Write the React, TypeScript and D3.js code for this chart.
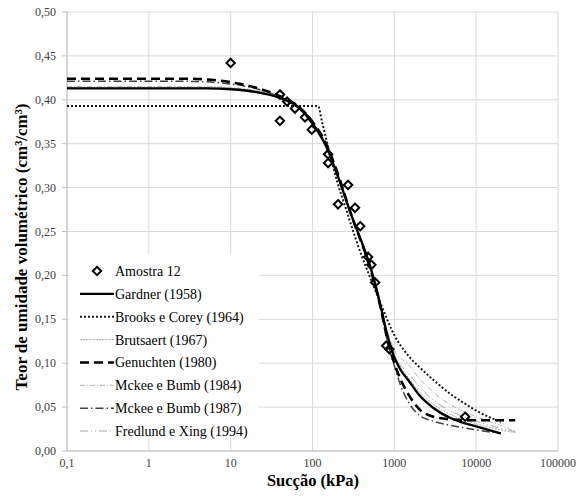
import React from 'react';
import * as d3 from 'd3';

// ---- Data ----
const xTickValues = [0.1, 1, 10, 100, 1000, 10000, 100000];
const xTickLabels = ['0,1', '1', '10', '100', '1000', '10000', '100000'];
const yTickValues = [0, 0.05, 0.1, 0.15, 0.2, 0.25, 0.3, 0.35, 0.4, 0.45, 0.5];
const yTickLabels = ['0,00', '0,05', '0,10', '0,15', '0,20', '0,25', '0,30', '0,35', '0,40', '0,45', '0,50'];

const sampleSuction = [10, 40, 40, 49, 61, 81, 98, 155, 155, 205, 272, 331, 383, 478, 524, 582, 795, 870, 7330];
const sampleTheta = [0.442, 0.406, 0.376, 0.398, 0.390, 0.380, 0.366, 0.338, 0.328, 0.281, 0.303, 0.277, 0.256, 0.221, 0.212, 0.192, 0.120, 0.116, 0.039];

const gardnerSuction = [0.1, 1, 5, 10, 20, 40, 70, 100, 150, 200, 300, 500, 600, 700, 800, 1000, 1200, 1500, 2000, 3000, 5000, 7000, 10000, 20000];
const gardnerTheta = [0.413, 0.413, 0.413, 0.412, 0.409, 0.402, 0.390, 0.373, 0.345, 0.315, 0.268, 0.212, 0.186, 0.160, 0.136, 0.107, 0.092, 0.080, 0.064, 0.049, 0.037, 0.032, 0.028, 0.020];

const brooksSuction = [0.1, 117, 130, 150, 200, 250, 300, 400, 500, 700, 1000, 1500, 2000, 3000, 5000, 7000, 10000, 20000];
const brooksTheta = [0.393, 0.393, 0.376, 0.352, 0.307, 0.279, 0.256, 0.222, 0.199, 0.165, 0.132, 0.108, 0.096, 0.081, 0.064, 0.055, 0.046, 0.033];

const brutsaertSuction = [0.1, 1, 5, 10, 20, 40, 70, 100, 150, 200, 300, 500, 600, 700, 800, 1000, 1200, 1500, 2000, 3000, 5000, 10000, 20000, 30000];
const brutsaertTheta = [0.414, 0.414, 0.414, 0.413, 0.410, 0.403, 0.391, 0.374, 0.346, 0.316, 0.268, 0.212, 0.187, 0.161, 0.137, 0.109, 0.095, 0.083, 0.068, 0.053, 0.041, 0.031, 0.024, 0.021];

const genuchtenSuction = [0.1, 1, 3, 10, 20, 40, 70, 100, 150, 200, 300, 500, 600, 700, 800, 1000, 1200, 1500, 2000, 3000, 5000, 10000, 30000];
const genuchtenTheta = [0.424, 0.424, 0.424, 0.420, 0.414, 0.404, 0.391, 0.375, 0.348, 0.318, 0.268, 0.210, 0.184, 0.158, 0.132, 0.100, 0.081, 0.064, 0.048, 0.039, 0.036, 0.035, 0.035];

const mckee84Suction = [0.1, 1, 5, 10, 20, 40, 70, 100, 150, 200, 300, 500, 600, 700, 800, 1000, 1500, 2000, 3000, 5000, 7000, 10000, 20000, 30000];
const mckee84Theta = [0.415, 0.415, 0.415, 0.414, 0.411, 0.404, 0.392, 0.375, 0.347, 0.317, 0.269, 0.213, 0.189, 0.164, 0.141, 0.115, 0.098, 0.083, 0.067, 0.052, 0.045, 0.039, 0.029, 0.022];

const mckee87Suction = [0.1, 1, 3, 10, 20, 40, 70, 100, 150, 200, 300, 500, 600, 700, 800, 1000, 1200, 1500, 2000, 3000, 5000, 10000, 20000];
const mckee87Theta = [0.421, 0.421, 0.421, 0.418, 0.413, 0.403, 0.390, 0.374, 0.347, 0.317, 0.268, 0.210, 0.184, 0.157, 0.130, 0.097, 0.074, 0.055, 0.041, 0.034, 0.029, 0.024, 0.020];

const fredlundSuction = [0.1, 1, 5, 10, 20, 40, 70, 100, 150, 200, 300, 500, 600, 700, 800, 1000, 1500, 2000, 3000, 5000, 10000, 20000, 30000];
const fredlundTheta = [0.414, 0.414, 0.414, 0.413, 0.410, 0.404, 0.392, 0.375, 0.347, 0.317, 0.268, 0.212, 0.188, 0.163, 0.139, 0.110, 0.088, 0.074, 0.058, 0.045, 0.034, 0.026, 0.022];

const seriesNames = [
  'Gardner (1958)',
  'Brooks e Corey (1964)',
  'Brutsaert (1967)',
  'Genuchten (1980)',
  'Mckee e Bumb (1984)',
  'Mckee e Bumb (1987)',
  'Fredlund e Xing (1994)',
];

// ---- Styles ----
type Style = { stroke: string; width: number; dash?: string };
const styles: Style[] = [
  { stroke: '#000000', width: 2.3 },
  { stroke: '#1a1a1a', width: 2, dash: '2,2' },
  { stroke: '#a6a6a6', width: 1, dash: '2,1.2' },
  { stroke: '#000000', width: 2.6, dash: '9,5' },
  { stroke: '#b3b3b3', width: 1, dash: '5,2,1,2' },
  { stroke: '#404040', width: 1.5, dash: '8,3,1.5,3' },
  { stroke: '#a6a6a6', width: 1, dash: '8,3,1,3,1,3' },
];

const W = 584;
const H = 496;
const left = 67;
const right = 558;
const top = 12;
const bottom = 451;

const serif = '"Liberation Serif", "Times New Roman", serif';

export default function App() {
  const x = d3.scaleLog().domain([0.1, 100000]).range([left, right]);
  const y = d3.scaleLinear().domain([0, 0.5]).range([bottom, top]);

  const line = d3
    .line<[number, number]>()
    .x((d) => x(d[0]))
    .y((d) => y(d[1]))
    .curve(d3.curveMonotoneX);

  const curves: [number[], number[]][] = [
    [gardnerSuction, gardnerTheta],
    [brooksSuction, brooksTheta],
    [brutsaertSuction, brutsaertTheta],
    [genuchtenSuction, genuchtenTheta],
    [mckee84Suction, mckee84Theta],
    [mckee87Suction, mckee87Theta],
    [fredlundSuction, fredlundTheta],
  ];
  const drawOrder = [6, 4, 2, 5, 3, 1, 0];

  const diamond = 'M0,-4.2L4.2,0L0,4.2L-4.2,0Z';

  const legendTop = 271;
  const legendStep = 22.86;

  return (
    <svg
      width={W}
      height={H}
      style={{ position: 'absolute', left: 0, top: 0, background: '#fff' }}
      fontFamily={serif}
    >
      <rect x={0} y={0} width={W} height={H} fill="#fff" />
      {/* gridlines */}
      {xTickValues.map((v) => (
        <line key={'gx' + v} x1={x(v)} x2={x(v)} y1={top} y2={bottom} stroke="#d9d9d9" strokeWidth={1} />
      ))}
      {yTickValues.map((v) => (
        <line key={'gy' + v} x1={left} x2={right} y1={y(v)} y2={y(v)} stroke="#d9d9d9" strokeWidth={1} />
      ))}
      {/* axis lines */}
      <line x1={left} x2={left} y1={top} y2={bottom} stroke="#bfbfbf" strokeWidth={1} />
      <line x1={left} x2={right} y1={bottom} y2={bottom} stroke="#bfbfbf" strokeWidth={1} />
      {yTickValues.map((v) => (
        <line key={'ty' + v} x1={left - 5} x2={left} y1={y(v)} y2={y(v)} stroke="#bfbfbf" strokeWidth={1} />
      ))}
      {/* tick labels */}
      {yTickValues.map((v, i) => (
        <text key={'ly' + v} x={56} y={y(v) + 4} textAnchor="end" fontSize={12} fill="#404040">
          {yTickLabels[i]}
        </text>
      ))}
      {xTickValues.map((v, i) => (
        <text key={'lx' + v} x={x(v)} y={467} textAnchor="middle" fontSize={12} fill="#404040">
          {xTickLabels[i]}
        </text>
      ))}
      {/* curves */}
      {drawOrder.map((i) => {
        const [sx, sy] = curves[i];
        const pts = sx.map((v, k) => [v, sy[k]] as [number, number]);
        const s = styles[i];
        return (
          <path
            key={'c' + i}
            d={line(pts) || ''}
            fill="none"
            stroke={s.stroke}
            strokeWidth={s.width}
            strokeDasharray={s.dash}
          />
        );
      })}
      {/* sample points */}
      {sampleSuction.map((v, k) => (
        <path
          key={'p' + k}
          d={diamond}
          transform={`translate(${x(v)},${y(sampleTheta[k])})`}
          fill="none"
          stroke="#000"
          strokeWidth={2}
        />
      ))}
      {/* axis titles */}
      <text x={313} y={486} textAnchor="middle" fontSize={16.5} fontWeight="bold" fill="#000">
        Sucção (kPa)
      </text>
      <text
        transform={`translate(27,247) rotate(-90)`}
        textAnchor="middle"
        fontSize={17}
        fontWeight="bold"
        fill="#000"
      >
        Teor de umidade volumétrico (cm³/cm³)
      </text>
      {/* legend */}
      <rect x={69} y={254} width={190} height={184} fill="#fff" />
      <path d={diamond} transform={`translate(97,${legendTop})`} fill="none" stroke="#000" strokeWidth={2} />
      <text x={115} y={legendTop + 5} fontSize={14} fill="#000">
        Amostra 12
      </text>
      {seriesNames.map((name, i) => {
        const cy = legendTop + legendStep * (i + 1);
        const s = styles[i];
        return (
          <g key={'lg' + i}>
            <line
              x1={80}
              x2={114}
              y1={cy}
              y2={cy}
              stroke={s.stroke}
              strokeWidth={s.width}
              strokeDasharray={s.dash}
            />
            <text x={115} y={cy + 5} fontSize={14} fill="#000">
              {name}
            </text>
          </g>
        );
      })}
    </svg>
  );
}
